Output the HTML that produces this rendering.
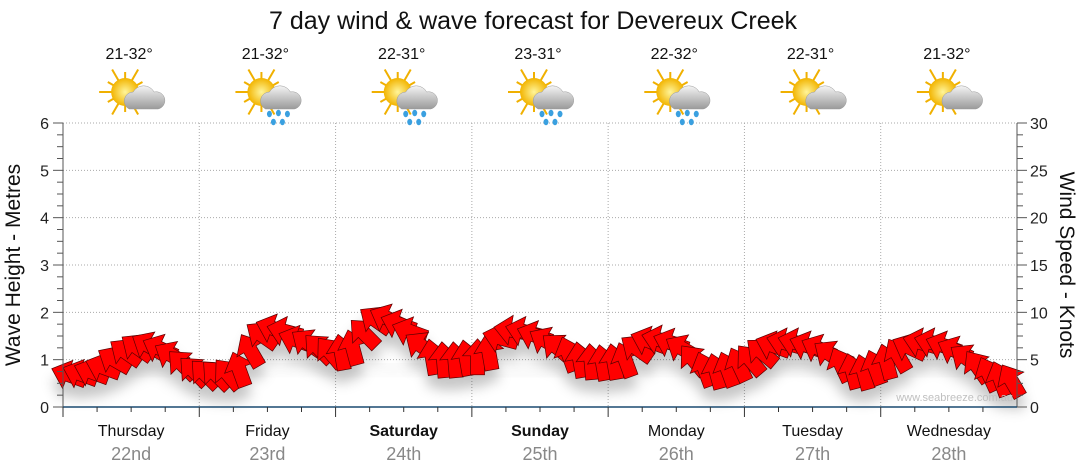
<!DOCTYPE html>
<html><head><meta charset="utf-8"><style>
body{margin:0;background:#fff;}
svg{display:block;font-family:"Liberation Sans",sans-serif;}
</style></head><body>
<svg id="c" width="1080" height="475">
<defs>
<filter id="blur" x="-10%" y="-50%" width="120%" height="200%"><feGaussianBlur stdDeviation="8"/></filter>
<filter id="ds" x="-10%" y="-50%" width="120%" height="250%"><feDropShadow dx="0" dy="12" stdDeviation="6" flood-color="#000" flood-opacity="0.22"/></filter>
<radialGradient id="sun" cx="50%" cy="50%" r="50%"><stop offset="0" stop-color="#fff59a"/><stop offset="1" stop-color="#f2b400"/></radialGradient>
<linearGradient id="cloud" x1="0" y1="0" x2="0" y2="1"><stop offset="0" stop-color="#f4f4f4"/><stop offset="1" stop-color="#9a9a9a"/></linearGradient>
</defs>
<text x="533" y="29" font-size="25" text-anchor="middle" fill="#111">7 day wind &amp; wave forecast for Devereux Creek</text>
<g id="grid"></g><g id="shadow"></g><g id="arrows" filter="url(#ds)"></g><g id="axes"></g><g id="icons"></g>
<text x="1013" y="401" font-size="11" text-anchor="end" fill="#c0c0c0">www.seabreeze.com.au</text>
<text transform="translate(20,265) rotate(-90)" font-size="21" text-anchor="middle" fill="#111">Wave Height - Metres</text>
<text transform="translate(1060,265) rotate(90)" font-size="21" text-anchor="middle" fill="#111">Wind Speed - Knots</text>
</svg>
<script>
const days=["Thursday","Friday","Saturday","Sunday","Monday","Tuesday","Wednesday"];
const dates=["22nd","23rd","24th","25th","26th","27th","28th"];
const boldDays=[false,false,true,true,false,false,false];
const temps=["21-32°","21-32°","22-31°","23-31°","22-32°","22-31°","21-32°"];
const rain=[false,true,true,true,true,false,false];
const waveTicks=[0,1,2,3,4,5,6];
const windTicks=[0,5,10,15,20,25,30];
const windSpeed=[3.4,3.5,3.7,4.2,5.0,5.8,6.3,6.5,6.2,5.5,4.5,3.8,
3.5,3.4,3.5,4.0,6.0,7.6,8.3,8.0,7.1,6.8,6.2,5.8,
5.8,6.3,7.8,9.2,9.4,8.8,8.0,6.5,5.3,5.0,5.0,5.2,
5.3,5.8,7.3,8.1,8.0,7.6,7.0,6.3,5.6,5.0,4.8,4.7,
4.8,5.0,6.2,7.0,7.1,6.8,6.2,5.0,4.0,3.8,4.0,4.5,
5.0,5.8,6.5,6.8,6.8,6.5,6.2,5.6,4.5,3.8,3.7,4.2,
4.8,5.5,6.3,6.8,6.8,6.5,6.0,5.2,4.3,3.5,3.0,2.8];
const windDir=[200,200,200,200,210,215,215,210,205,210,225,225,
225,225,230,250,240,215,200,195,200,215,225,230,
260,255,225,215,205,200,200,215,260,265,265,260,
270,260,195,190,195,200,210,220,250,260,265,260,
260,250,215,200,195,200,210,230,250,255,250,245,
230,220,200,195,195,200,205,215,245,255,255,250,
255,240,205,195,195,200,205,215,235,245,250,240];
const waveHeight=[0.7,0.75,0.8,0.85,0.85,0.8,0.75,0.75,0.8,0.8,0.75,0.7,0.7,0.75];

const X0=63,X1=1017,Y0=407,Y1=123,NS="http://www.w3.org/2000/svg";
const dw=(X1-X0)/7;
const xDay=d=>X0+d*dw;
const yWave=m=>Y0-(m/6)*(Y0-Y1);
const yWind=k=>Y0-(k/30)*(Y0-Y1);
const xIdx=i=>X0+(i+0.5)*(X1-X0)/windSpeed.length;
function mk(t,a,p){const e=document.createElementNS(NS,t);for(const k in a)e.setAttribute(k,a[k]);(p||document.getElementById('c')).appendChild(e);return e;}
const grid=document.getElementById('grid'),axes=document.getElementById('axes');
waveTicks.forEach(m=>{if(m>0){const l=mk('line',{x1:X0,x2:X1,y1:yWave(m),y2:yWave(m),stroke:'#aaa','stroke-dasharray':'1,2'},grid);

}
const t=mk('text',{x:49,y:yWave(m)+6,'font-size':16,'text-anchor':'end',fill:'#222'},axes);t.textContent=m;

});
for(let q=0;q<=24;q++){const y=Y0-q*(Y0-Y1)/24;mk('line',{x1:q%4?57:53,x2:63,y1:y,y2:y,stroke:'#555'},axes);mk('line',{x1:X1,x2:q%4?1023:1027,y1:y,y2:y,stroke:'#555'},axes);}
windTicks.forEach(k=>{const t=mk('text',{x:1030,y:yWind(k)+6,'font-size':16,fill:'#222'},axes);t.textContent=k;

});
mk('line',{x1:X0,x2:X0,y1:Y1,y2:Y0,stroke:'#555'},axes);
mk('line',{x1:X1,x2:X1,y1:Y1,y2:Y0,stroke:'#555'},axes);
mk('line',{x1:X0,x2:X1,y1:Y0,y2:Y0,stroke:'#1a4a70','stroke-width':1.5},axes);
for(let d=0;d<7;d++){
 if(d>0){const l=mk('line',{x1:xDay(d),x2:xDay(d),y1:Y1,y2:Y0,stroke:'#aaa','stroke-dasharray':'1,2'},grid);
 
 }
 for(let h=0;h<4;h++){const x=xDay(d)+h*dw/4;mk('line',{x1:x,x2:x,y1:Y0,y2:h?Y0+5:Y0+10,stroke:'#333'},axes);}
 const cx=xDay(d)+dw/2;
 const dn=mk('text',{x:cx,y:436,'font-size':16,'text-anchor':'middle',fill:'#111','font-weight':boldDays[d]?'bold':'normal'},axes);dn.textContent=days[d];
 
 
 const dt=mk('text',{x:cx,y:460,'font-size':18,'text-anchor':'middle',fill:'#888'},axes);dt.textContent=dates[d];
 
 
 const tt=mk('text',{x:cx-2,y:59,'font-size':16,'text-anchor':'middle',fill:'#111'},document.getElementById('icons'));tt.textContent=temps[d];
 
 
 const g=mk('g',{transform:`translate(${cx},95)`},document.getElementById('icons'));
 
 
 for(let r=0;r<12;r++){const a=r*30*Math.PI/180;mk('line',{x1:-6+Math.cos(a)*12,y1:-3+Math.sin(a)*12,x2:-6+Math.cos(a)*(r%2?20:26),y2:-3+Math.sin(a)*(r%2?20:26),stroke:'#f0b000','stroke-width':2},g);}
 mk('circle',{cx:-6,cy:-3,r:14,fill:'url(#sun)'},g);
 mk('path',{d:'M-2,14 a9,9 0 0 1 4,-17 a12,12 0 0 1 21,0 a8,8 0 0 1 4,17 z',fill:'url(#cloud)',stroke:'#999','stroke-width':0.5},g);
 if(rain[d]){[[2,19],[11,18],[20,19],[6,27],[15,27]].forEach(p=>mk('ellipse',{cx:p[0],cy:p[1],rx:2.5,ry:3.2,fill:'#3aa0e0'},g));}
}
// wave series (faint)
let wp='';waveHeight.forEach((m,i)=>{const x=X0+i*(X1-X0)/(waveHeight.length-1);wp+=(i?'L':'M')+x+','+yWave(m);});
const sh=mk('path',{d:wp,stroke:'#bbb',fill:'none','stroke-width':10,opacity:0.15,filter:'url(#blur)'},document.getElementById('shadow'));


const ag=document.getElementById('arrows');
windSpeed.forEach((k,i)=>{
 const a=mk('polygon',{points:'18,0 1,-15 1,-7 -18,-7 -18,7 1,7 1,15',fill:'#ff0000',stroke:'#5a0000','stroke-width':0.7,
 transform:`translate(${xIdx(i)},${yWind(k)}) rotate(${windDir[i]})`},ag);
 
 
});
</script>
</body></html>
